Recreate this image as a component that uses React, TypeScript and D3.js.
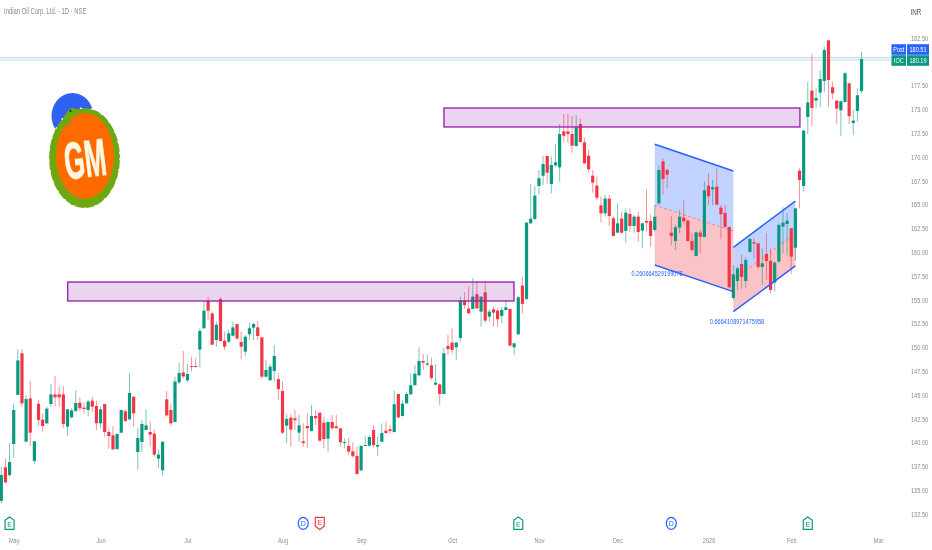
import React, { useEffect, useRef } from 'react';
import * as d3 from 'd3';

const opens = [
  133.77, 137.3, 136.49, 139.75, 144.9, 149.27, 139.99, 144.54, 137.97, 143.98,
  142.3, 141.92, 143.95, 144.96, 144.96, 144.96, 141.57, 142.55, 143.21, 144.09,
  143.56, 143.32, 144.3, 143.74, 141.92, 143.95, 141.01, 140.66, 139.22, 140.94,
  143.18, 142.34, 144.72, 138.91, 139.96, 141.22, 141.01, 140.84, 138.21, 136.99,
  144.44, 143.32, 142.06, 146.22, 147.27, 146.44, 147.94, 147.94, 149.66, 151.9,
  154.8, 153.47, 150.67, 154.97, 150.6, 150.5, 151.12, 152.35, 150.46, 149.45,
  151.27, 151.97, 152, 150.95, 146.82, 146.44, 147.42, 146.57, 145.31, 141.68,
  142.52, 142.45, 140.94, 140.03, 141.64, 141.12, 142.69, 143.04, 141.99, 140.31,
  142.06, 141.6, 141.4, 139.89, 139.54, 138.98, 138.49, 136.99, 139.57, 139.57,
  141.22, 139.47, 139.99, 141.15, 141.29, 141.01, 145, 142.69, 144.02, 144.96,
  145.94, 146.96, 148.47, 148.08, 148.01, 145.98, 146.01, 145, 150.04, 150.4,
  149.91, 150.89, 154.81, 153.97, 153.94, 155.48, 153.65, 155.68, 153.13, 153.9,
  153.76, 153.2, 153.83, 153.94, 149.91, 151.28, 156.39, 154.98, 162.93, 163.39,
  166.85, 167.93, 170, 167.06, 169.02, 168.81, 172.59, 172.59, 172.31, 171.05,
  173.36, 171.43, 170.03, 167.93, 166.88, 164.82, 163.98, 165.52, 163.45, 161.95,
  163.42, 162.13, 163.91, 162.65, 163.63, 162.16, 163.17, 163.17, 162.23, 165.03,
  169.44, 168.53, 161.95, 161.07, 162.48, 163.52, 163.21, 161.07, 159.5, 161.95,
  161.5, 166.89, 166.5, 166.78, 164.58, 164.02, 162.55, 155.09, 156.87, 158.66,
  156.87, 159.92, 160.94, 160.83, 158.35, 159.71, 158.98, 156.7, 158.91, 162.58,
  162.86, 162.41, 160.37, 168.46, 166.85, 174.1, 176.87, 175.82, 176.66, 177.88,
  182.15, 177.22, 175.82, 174.8, 175.68, 177.64, 173.47, 174.73, 176.83,
];

const highs = [
  137.37, 138.25, 139.82, 144.02, 149.69, 149.73, 144.9, 146.37, 140.03, 144.37,
  142.97, 143.67, 146.05, 146.89, 145.77, 145.84, 143.39, 143.5, 145.35, 144.65,
  144.09, 144.37, 144.72, 144.3, 143.67, 143.95, 141.4, 141.64, 140.87, 143.32,
  143.39, 147.17, 144.72, 141.4, 142.27, 143.39, 142.09, 141.22, 139.12, 139.99,
  145.31, 144.02, 146.82, 148.29, 149.52, 148.15, 148.92, 148.75, 151.9, 154.8,
  155.2, 153.65, 152.6, 155.2, 151.55, 151.79, 152.6, 152.35, 151.55, 151.2,
  152.49, 152.49, 152.67, 150.95, 148.57, 148.12, 150.14, 147.17, 146.3, 142.87,
  142.87, 143.32, 142.8, 141.92, 142.97, 143.85, 143.32, 143.04, 142.62, 142.06,
  142.8, 142.8, 141.4, 140.34, 140.45, 139.92, 139.47, 139.64, 140.59, 140.69,
  141.71, 140.52, 141.92, 142.09, 141.71, 145.35, 145, 144.3, 145.25, 147.17,
  148.04, 149.9, 149.2, 149.1, 148.82, 148.12, 146.12, 149.87, 151.2, 151.91,
  150.5, 155.23, 155.68, 156.28, 157.15, 156.88, 155.23, 156.63, 153.9, 154.18,
  154, 154.18, 154.88, 153.94, 150.33, 155.3, 157.33, 163, 167.06, 166.85,
  168.53, 170.03, 170, 169.93, 171.26, 173.36, 174.41, 174.41, 174.2, 174.3,
  173.95, 171.93, 170.63, 168.53, 167.83, 165.73, 165.9, 165.9, 163.63, 165.03,
  164.15, 164.5, 164.5, 163.8, 164.15, 163, 166.43, 163.87, 164.85, 169.05,
  169.75, 168.7, 163.7, 162.76, 164.33, 165.38, 163.28, 161.88, 162.06, 162.23,
  167.3, 168.18, 167.48, 168.78, 164.85, 164.85, 162.58, 158.55, 158.38, 159.6,
  159.43, 161.36, 161.36, 160.9, 160.3, 161.88, 160.3, 158.91, 162.93, 164.61,
  163.98, 162.41, 164.5, 168.7, 172.73, 177.81, 180.72, 177.11, 178.97, 181.49,
  182.15, 177.81, 175.82, 175.82, 178.87, 177.64, 174.83, 177.11, 180.96,
];

const lows = [
  133.52, 135.62, 136.32, 138.25, 144.9, 143.67, 139.99, 139.57, 137.65, 141.67,
  141.05, 141.85, 143.67, 143.67, 143.67, 141.4, 140.62, 142.45, 143.14, 143.25,
  142.97, 142.69, 143.14, 141.22, 141.4, 140.52, 139.22, 139.12, 139.12, 140.94,
  142.09, 142.27, 141.57, 137.02, 138.91, 141.22, 139.47, 138.42, 137.2, 136.42,
  142.62, 141.75, 142.06, 146.05, 146.64, 146.19, 147.35, 147.8, 147.8, 151.9,
  152.77, 150.15, 149.97, 150.5, 149.62, 150.32, 151.02, 150.67, 148.64, 148.99,
  150.67, 150.67, 150.67, 146.61, 146.75, 146.4, 146.3, 144.37, 140.8, 139.82,
  139.47, 141.22, 139.99, 139.47, 139.36, 141.05, 141.75, 140.03, 139.29, 138.91,
  141.22, 141.4, 139.47, 139.29, 138.6, 138.35, 136.53, 136.85, 139.57, 139.47,
  139.4, 138.52, 139.92, 140.8, 140.87, 140.94, 142.41, 142.62, 143.95, 144.9,
  145.84, 146.89, 147.52, 147.94, 146.47, 145.91, 143.85, 145, 149.1, 149.28,
  148.58, 150.5, 154, 153.41, 153.9, 153.94, 152.08, 152.5, 152.61, 152.08,
  152.08, 152.43, 153.76, 149.98, 149.1, 151.17, 153.48, 154.88, 162.86, 163.28,
  165.91, 166.95, 167.13, 166.08, 168.88, 167.3, 171.5, 171.4, 170.35, 170.98,
  171.4, 169.16, 168.25, 166.15, 165.38, 163, 163.63, 162.65, 161.53, 161.88,
  161.81, 160.9, 162.06, 161.88, 161, 160.3, 162.06, 160.48, 162.06, 164.85,
  165.97, 166.6, 160.66, 160.13, 161.88, 162.93, 161, 159.96, 159.43, 159.78,
  161.46, 164.85, 164.85, 164.82, 161.25, 162.41, 156.1, 154.88, 155.93, 156.1,
  156.1, 159.85, 159.25, 158.2, 156.46, 156.98, 155.58, 155.76, 158.73, 159.78,
  159.6, 157.61, 159, 164.5, 166.26, 172.31, 173.16, 175.01, 175.12, 176.76,
  175.19, 175.96, 173.37, 172.11, 175.61, 173.37, 172.21, 173.61, 176.59,
];

const closes = [
  136.49, 135.72, 137.86, 143.32, 148.53, 144.02, 144.47, 140.94, 140.03, 142.27,
  141.64, 143.46, 144.96, 144.65, 144.65, 141.85, 143.39, 143.28, 144.05, 143.5,
  143.42, 144.2, 143.67, 141.92, 143.39, 141.01, 140.59, 139.19, 140.8, 143.32,
  142.16, 145.11, 142.97, 140.38, 141.85, 141.71, 140.73, 138.63, 138.63, 139.99,
  142.76, 141.92, 146.3, 147.2, 146.85, 147.1, 147.84, 147.84, 151.62, 153.75,
  153.75, 150.18, 152.28, 150.57, 149.97, 151.37, 152, 150.84, 149.97, 151.02,
  151.9, 152.35, 151.09, 146.82, 147.52, 147.87, 148.99, 145.52, 140.94, 142.38,
  141.26, 142.24, 141.71, 139.85, 141.4, 142.69, 142.45, 140.1, 140.27, 142.06,
  141.4, 141.4, 139.92, 139.96, 138.95, 138.46, 136.6, 139.54, 139.64, 140.48,
  139.64, 139.64, 140.9, 140.9, 141.12, 143.92, 142.55, 143.98, 145, 145.91,
  147.13, 148.47, 148.29, 148.22, 146.68, 146.19, 145, 149.27, 149.72, 149.63,
  150.4, 154.81, 154.35, 153.48, 155.23, 154, 155.23, 152.71, 153.65, 153.55,
  152.85, 153.83, 154.11, 150.09, 150.33, 155.16, 154.46, 163, 163.42, 165.84,
  167.66, 169.16, 168.25, 169.05, 169.33, 172.31, 172.13, 172.31, 171.09, 173.01,
  171.47, 169.23, 168.6, 167.2, 165.62, 163.98, 165.52, 163.7, 161.6, 162.93,
  161.95, 164.05, 162.65, 163.63, 162.02, 162.93, 163, 161.6, 163.63, 168.53,
  167.58, 168.04, 161.6, 162.51, 163.63, 163.17, 161.07, 160.13, 161.98, 161.53,
  166.4, 165.77, 166.71, 164.89, 163.88, 162.55, 156.21, 157.57, 158.2, 157.29,
  159.08, 161.29, 160.8, 158.35, 158.73, 158.98, 155.93, 158.8, 162.76, 163,
  163.21, 159.43, 164.5, 167.48, 172.66, 175.64, 175.05, 176.1, 178.09, 181.14,
  177.99, 176.59, 174.98, 175.75, 178.69, 174.17, 173.72, 176.38, 180.19,
];

const priceTicks = [
  182.5, 177.5, 175, 172.5, 170, 167.5, 165, 162.5, 160, 157.5, 155, 152.5,
  150, 147.5, 145, 142.5, 140, 137.5, 135, 132.5,
];
const monthLabels = ['May', 'Jun', 'Jul', 'Aug', 'Sep', 'Oct', 'Nov', 'Dec', '2026', 'Feb', 'Mar'];
const monthBars = [3, 24, 45, 68, 87, 109, 130, 149, 171, 191, 212];

const postLinePrice = 180.33;
const postLabel = '180.51';
const lastLinePrice = 180.09;
const lastLabel = '180.19';

// supply / demand boxes: [first bar, last bar, top price, bottom price]
const zones = [
  [16.05, 123.96, 156.76, 154.77],
  [107.03, 193.1, 175.04, 173.05],
];

// channels: [x0, x1, top0, top1, mid0, mid1, bottom0, bottom1]
const channels = [
  [158, 177, 171.23, 168.42, 164.82, 162.12, 158.55, 155.75],
  [177, 192, 160.41, 165.27, 157.03, 161.86, 153.65, 158.45],
];
const channelTexts = ['0.260664529199078', '0.6664108971475958'];
const channelTextBars = [158.4, 177.6];
const channelTextPrices = [157.4, 152.4];

const earningsUp = [2, 125, 195];
const earningsDown = [77];
const dividends = [73, 162];

const WIDTH = 932;
const HEIGHT = 550;
const UP = '#089981';
const DOWN = '#f23645';
const BLUE = '#2962ff';
const FONT = '"Liberation Sans", sans-serif';
const SQUEEZE = 0.7;

const App: React.FC = () => {
  const svgRef = useRef<SVGSVGElement | null>(null);

  useEffect(() => {
    if (!svgRef.current) return;
    const svg = d3.select(svgRef.current);
    svg.selectAll('*').remove();

    const x = d3.scaleLinear().domain([0, 212]).range([1.3, 878.1]);
    const y = d3.scaleLinear().domain([132.5, 182.5]).range([513, 37]);
    const bars = d3.range(opens.length);

    // narrow text: the labels in the picture are squeezed sideways
    const label = (
      px: number,
      py: number,
      content: string,
      size: number,
      fill: string,
      anchor = 'start',
    ) =>
      svg.append('text')
        .attr('transform', `translate(${px},${py}) scale(${SQUEEZE},1)`)
        .attr('text-anchor', anchor)
        .attr('font-family', FONT)
        .attr('font-size', size)
        .attr('fill', fill)
        .text(content);

    // last price lines
    svg.append('line')
      .attr('x1', 0).attr('x2', 891)
      .attr('y1', y(postLinePrice)).attr('y2', y(postLinePrice))
      .attr('stroke', '#adc4f6').attr('stroke-width', 0.8);
    svg.append('line')
      .attr('x1', 0).attr('x2', 891)
      .attr('y1', y(lastLinePrice)).attr('y2', y(lastLinePrice))
      .attr('stroke', '#a3d9d0').attr('stroke-width', 0.8);

    // channel fills go under the candles
    const area = d3.area<number>().x(d => d);
    channels.forEach(([x0, x1, t0, t1, m0, m1, b0, b1]) => {
      const px = [x(x0), x(x1)];
      const lerp = (a: number, b: number) => d3.scaleLinear().domain(px).range([y(a), y(b)]);
      const top = lerp(t0, t1);
      const mid = lerp(m0, m1);
      const bot = lerp(b0, b1);
      svg.append('path')
        .attr('d', area.y0(d => mid(d)).y1(d => top(d))(px))
        .attr('fill', BLUE).attr('fill-opacity', 0.28);
      svg.append('path')
        .attr('d', area.y0(d => bot(d)).y1(d => mid(d))(px))
        .attr('fill', DOWN).attr('fill-opacity', 0.3);
    });

    // wicks
    svg.append('g').selectAll('line')
      .data(bars)
      .join('line')
      .attr('x1', i => x(i)).attr('x2', i => x(i))
      .attr('y1', i => y(highs[i])).attr('y2', i => y(lows[i]))
      .attr('stroke', i => (closes[i] >= opens[i] ? UP : DOWN))
      .attr('stroke-width', 1)
      .attr('stroke-opacity', 0.55);

    // bodies
    svg.append('g').selectAll('rect')
      .data(bars)
      .join('rect')
      .attr('x', i => x(i) - 1.6)
      .attr('width', 3.2)
      .attr('y', i => y(Math.max(opens[i], closes[i])))
      .attr('height', i => Math.max(1, Math.abs(y(opens[i]) - y(closes[i]))))
      .attr('fill', i => (closes[i] >= opens[i] ? UP : DOWN));

    // channel outlines
    const line = d3.line<[number, number]>().x(d => x(d[0])).y(d => y(d[1]));
    channels.forEach(([x0, x1, t0, t1, m0, m1, b0, b1]) => {
      [[t0, t1], [b0, b1]].forEach(([a, b]) => {
        svg.append('path')
          .attr('d', line([[x0, a], [x1, b]]))
          .attr('fill', 'none').attr('stroke', BLUE).attr('stroke-width', 1.5);
      });
      svg.append('path')
        .attr('d', line([[x0, m0], [x1, m1]]))
        .attr('fill', 'none').attr('stroke', DOWN).attr('stroke-width', 0.8)
        .attr('stroke-dasharray', '3 2').attr('stroke-opacity', 0.6);
    });

    channelTexts.forEach((t, k) => {
      label(x(channelTextBars[k]) + (k === 0 ? -25 : -26), y(channelTextPrices[k]), t, 8, BLUE);
    });

    // boxes
    svg.append('g').selectAll('rect')
      .data(zones)
      .join('rect')
      .attr('x', d => x(d[0]))
      .attr('width', d => x(d[1]) - x(d[0]))
      .attr('y', d => y(d[2]))
      .attr('height', d => y(d[3]) - y(d[2]))
      .attr('fill', '#9c27b0').attr('fill-opacity', 0.2)
      .attr('stroke', '#9c27b0').attr('stroke-width', 1.4);

    // logo
    const logo = svg.append('g');
    logo.append('ellipse').attr('cx', 72.5).attr('cy', 116).attr('rx', 21).attr('ry', 23).attr('fill', '#2f62f0');
    logo.append('ellipse').attr('cx', 84.5).attr('cy', 158).attr('rx', 35.5).attr('ry', 50).attr('fill', '#6ea810');
    logo.append('ellipse').attr('cx', 84.5).attr('cy', 158).attr('rx', 35.5).attr('ry', 50)
      .attr('fill', 'none').attr('stroke', '#fff').attr('stroke-width', 1.2).attr('stroke-dasharray', '2 9');
    logo.append('ellipse').attr('cx', 85).attr('cy', 156).attr('rx', 29).attr('ry', 43).attr('fill', '#ff6a00');
    logo.append('path').attr('d', 'M62 124 Q64 112 72 108 Q78 108 76 113 Q71 116 69 126 Z').attr('fill', '#6ea810');
    logo.append('circle').attr('cx', 70.5).attr('cy', 111).attr('r', 1).attr('fill', '#223');
    logo.append('text')
      .attr('text-anchor', 'middle')
      .attr('transform', 'rotate(-7 85 158) translate(85,177) scale(0.5,1)')
      .attr('font-family', FONT)
      .attr('font-weight', 700).attr('font-size', 52)
      .attr('fill', '#fff8e6').attr('stroke', '#ffd27a').attr('stroke-width', 1.4)
      .attr('paint-order', 'stroke')
      .text('GM');

    // price axis
    const axis = svg.append('g')
      .attr('transform', 'translate(911,0.7)')
      .call(d3.axisRight(y).tickValues(priceTicks).tickSize(0).tickPadding(0).tickFormat(d3.format('.2f')));
    axis.select('.domain').remove();
    axis.selectAll('text')
      .attr('font-family', FONT).attr('font-size', 8)
      .attr('transform', `scale(${SQUEEZE},1)`)
      .attr('fill', '#8c8c8c');

    // time axis
    const timeAxis = svg.append('g')
      .attr('transform', 'translate(0,537)')
      .call(d3.axisBottom(x).tickValues(monthBars).tickSize(0).tickPadding(0)
        .tickFormat((_, i) => monthLabels[i]));
    timeAxis.select('.domain').remove();
    timeAxis.selectAll('text')
      .attr('font-family', FONT).attr('font-size', 8)
      .attr('transform', `scale(${SQUEEZE},1)`)
      .attr('fill', '#8c8c8c');

    // event markers
    const mark = svg.append('g').attr('font-family', FONT).attr('font-size', 7).attr('text-anchor', 'middle');
    const tag = (i: number, color: string, points: string, up: boolean) => {
      const g = mark.append('g').attr('transform', `translate(${x(i)},523.3)`);
      g.append('path').attr('d', points).attr('fill', '#fff').attr('stroke', color).attr('stroke-width', 1.2);
      g.append('text').attr('y', up ? 3.5 : 1.5).attr('fill', color).text('E');
    };
    earningsUp.forEach(i => tag(i, UP, 'M-4.5 -3 L0 -6.3 L4.5 -3 V6 H-4.5 Z', true));
    earningsDown.forEach(i => tag(i, DOWN, 'M-4.5 -6 H4.5 V3 L0 6.3 L-4.5 3 Z', false));
    dividends.forEach(i => {
      const g = mark.append('g').attr('transform', `translate(${x(i)},523.3)`);
      g.append('ellipse').attr('rx', 5).attr('ry', 6).attr('fill', '#fff').attr('stroke', BLUE).attr('stroke-width', 1.2);
      g.append('text').attr('y', 2.5).attr('fill', BLUE).text('D');
    });

    // price tags
    const priceTag = (top: number, name: string, value: string, color: string) => {
      svg.append('rect').attr('x', 891.5).attr('y', top).attr('width', 14.5).attr('height', 10.6).attr('fill', color);
      svg.append('rect').attr('x', 907).attr('y', top).attr('width', 22).attr('height', 10.6).attr('fill', color);
      label(898.8, top + 8, name, 8, '#fff', 'middle');
      label(918, top + 8, value, 8, '#fff', 'middle');
    };
    priceTag(44.2, 'Post', postLabel, BLUE);
    priceTag(55.2, 'IOC', lastLabel, UP);

    // header text
    label(4, 14, 'Indian Oil Corp. Ltd. · 1D · NSE', 8.4, '#8c8c8c');
    label(916, 14.5, 'INR', 9, '#555', 'middle');
  }, []);

  return (
    <svg
      ref={svgRef}
      width={WIDTH}
      height={HEIGHT}
      style={{ position: 'absolute', left: 0, top: 0, background: '#fff', filter: 'blur(0.35px)' }}
    />
  );
};

export default App;
